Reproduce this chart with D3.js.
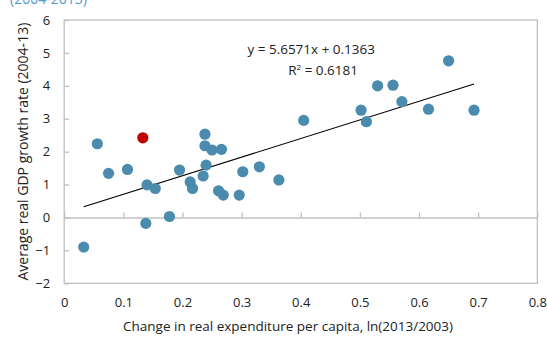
<!DOCTYPE html>
<html>
<head>
<meta charset="utf-8">
<script src="https://cdn.jsdelivr.net/npm/d3@7"></script>
<style>
  html, body { margin: 0; padding: 0; background: #fff; }
  svg { display: block; }
  text { font-family: "Open Sans", "Noto Sans", sans-serif; fill: #222; }
</style>
</head>
<body>
<svg id="chart" width="547" height="337"></svg>
<script>
// Change in real expenditure per capita, ln(2013/2003)
const expenditureChange = [
  0.033, 0.056, 0.075, 0.107, 0.140, 0.154, 0.138, 0.178, 0.195, 0.213,
  0.217, 0.238, 0.238, 0.250, 0.266, 0.240, 0.235, 0.261, 0.269, 0.296,
  0.302, 0.330, 0.363, 0.405, 0.502, 0.511, 0.530, 0.556, 0.571, 0.616,
  0.650, 0.693
];
// Average real GDP growth rate, 2004-13
const gdpGrowth = [
  -0.90, 2.24, 1.34, 1.46, 0.99, 0.88, -0.18, 0.03, 1.44, 1.08,
  0.88, 2.53, 2.18, 2.05, 2.07, 1.59, 1.26, 0.81, 0.68, 0.68,
  1.39, 1.54, 1.14, 2.95, 3.26, 2.91, 4.00, 4.02, 3.52, 3.29,
  4.76, 3.26
];
// Highlighted economy
const highlightX = [0.133];
const highlightY = [2.42];

const slope = 5.6571, intercept = 0.1363, rSquared = 0.6181;
const xTicks = [0, 0.1, 0.2, 0.3, 0.4, 0.5, 0.6, 0.7, 0.8];
const yTicks = [-2, -1, 0, 1, 2, 3, 4, 5, 6];

const svg = d3.select("#chart");
const plotLeft = 64.2, plotRight = 537.3, plotTop = 20, plotBottom = 283.3;

const x = d3.scaleLinear().domain([0, 0.8]).range([plotLeft, plotRight]);
const y = d3.scaleLinear().domain([-2, 6]).range([plotBottom, plotTop]);

// Subtitle line running off the top edge
svg.append("text")
  .attr("x", 10).attr("y", 4)
  .style("font-size", "14px").style("fill", "#4f9ad0")
  .text("(2004-2013)");

// Plot frame
svg.append("rect")
  .attr("x", plotLeft).attr("y", plotTop)
  .attr("width", plotRight - plotLeft).attr("height", plotBottom - plotTop)
  .attr("fill", "none").attr("stroke", "#c0c0c0").attr("stroke-width", 1.3);

// Y axis: inward ticks, labels on the left
const yAxis = d3.axisLeft(y).tickValues(yTicks).tickSizeInner(-5).tickSizeOuter(0)
  .tickPadding(14).tickFormat(d3.format("d"));
const gy = svg.append("g").attr("transform", `translate(${plotLeft},0)`).call(yAxis);
gy.select(".domain").remove();
gy.selectAll(".tick line").attr("stroke", "#c0c0c0").attr("stroke-width", 1.3);
gy.selectAll(".tick text").style("font-size", "13px").style("fill", "#222")
  .style("font-family", "'Open Sans', sans-serif");

// X axis drawn along y = 0, ticks pointing up, labels below the frame
const xAxisLine = d3.axisBottom(x).tickValues(xTicks).tickSizeInner(-5).tickSizeOuter(0)
  .tickFormat("");
const gx = svg.append("g").attr("transform", `translate(0,${y(0)})`).call(xAxisLine);
gx.select(".domain").attr("stroke", "#c0c0c0").attr("stroke-width", 1.3);
gx.selectAll(".tick line").attr("stroke", "#c0c0c0").attr("stroke-width", 1.3);

const xLabels = d3.axisBottom(x).tickValues(xTicks).tickSize(0).tickPadding(14)
  .tickFormat(d => d === 0 ? "0" : d3.format(".1f")(d));
const gxl = svg.append("g").attr("transform", `translate(0,${plotBottom})`).call(xLabels);
gxl.select(".domain").remove();
gxl.selectAll(".tick text").style("font-size", "13px").style("fill", "#222")
  .style("font-family", "'Open Sans', sans-serif");

// Axis titles
svg.append("text")
  .attr("x", 288).attr("y", 331)
  .attr("text-anchor", "middle").style("font-size", "13.5px")
  .text("Change in real expenditure per capita, ln(2013/2003)");

svg.append("text")
  .attr("transform", `translate(28,${(plotTop + plotBottom) / 2}) rotate(-90)`)
  .attr("text-anchor", "middle").style("font-size", "14px")
  .text("Average real GDP growth rate  (2004-13)");

// Linear trend line over the data range
const xMin = d3.min(expenditureChange), xMax = d3.max(expenditureChange);
svg.append("line")
  .attr("x1", x(xMin)).attr("y1", y(slope * xMin + intercept))
  .attr("x2", x(xMax)).attr("y2", y(slope * xMax + intercept))
  .attr("stroke", "#000").attr("stroke-width", 1.1);

// Points
const pts = expenditureChange.map((v, i) => ({ x: v, y: gdpGrowth[i] }));
svg.append("g").selectAll("circle").data(pts).join("circle")
  .attr("cx", d => x(d.x)).attr("cy", d => y(d.y)).attr("r", 5.6)
  .attr("fill", "#4a8bae");

svg.append("g").selectAll("circle")
  .data(highlightX.map((v, i) => ({ x: v, y: highlightY[i] }))).join("circle")
  .attr("cx", d => x(d.x)).attr("cy", d => y(d.y)).attr("r", 5.6)
  .attr("fill", "#c00000");

// Regression equation
const eq = svg.append("text").attr("text-anchor", "end").style("font-size", "13.5px");
eq.append("tspan").attr("x", 375).attr("y", 54)
  .text(`y = ${slope}x + ${intercept}`);
const r2 = svg.append("text").attr("text-anchor", "end").style("font-size", "13.5px")
  .attr("x", 358).attr("y", 75);
r2.append("tspan").text("R");
r2.append("tspan").attr("dy", -5).style("font-size", "8px").text("2");
r2.append("tspan").attr("dy", 5).text(` = ${rSquared}`);
</script>
</body>
</html>
